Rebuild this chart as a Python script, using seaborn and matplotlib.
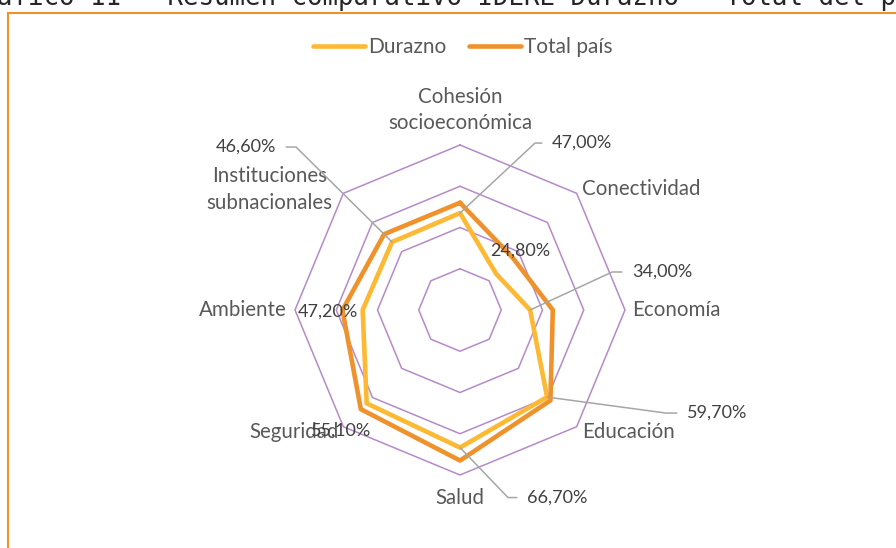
import numpy as np
import pandas as pd
import matplotlib
matplotlib.use('Agg')
import matplotlib.pyplot as plt
import matplotlib.patches as mpatches
import seaborn as sns

# datos
categorias = ['Cohesión\nsocioeconómica', 'Conectividad', 'Economía', 'Educación',
              'Salud', 'Seguridad', 'Ambiente', 'Instituciones\nsubnacionales']
durazno = [0.470, 0.248, 0.340, 0.597, 0.667, 0.640, 0.472, 0.466]
total_pais = [0.52, 0.36, 0.45, 0.62, 0.73, 0.68, 0.57, 0.52]
etiquetas_durazno = ['47,00%', '24,80%', '34,00%', '59,70%', '66,70%', '55,10%', '47,20%', '46,60%']
anillos = [0.2, 0.4, 0.6, 0.8]

titulo = 'Gráfico 11 – Resumen comparativo IDERE Durazno – Total del país'

col_durazno = '#FDB933'
col_total = '#F0922B'
col_grid = '#B58AC9'
col_texto = '#595959'
col_guia = '#A6A6A6'

sns.set_theme(style='white')
plt.rcParams['font.family'] = ['Lato', 'DejaVu Sans']

n = len(categorias)
theta = np.arange(n) * 2 * np.pi / n
theta_c = np.append(theta, 2 * np.pi)

df = pd.concat([
    pd.DataFrame({'theta': theta_c, 'valor': durazno + durazno[:1], 'serie': 'Durazno'}),
    pd.DataFrame({'theta': theta_c, 'valor': total_pais + total_pais[:1], 'serie': 'Total país'}),
])

fig = plt.figure(figsize=(8.96, 5.48), dpi=100)
fig.patch.set_facecolor('white')

# marco naranja (recortado a derecha y abajo)
fig.patches.append(mpatches.Rectangle((8 / 896, -0.1), 1.2, (548 - 12.5) / 548 + 0.1,
                                      transform=fig.transFigure, fill=False,
                                      edgecolor='#F0922B', linewidth=1.5))
fig.text(-34 / 896, 1 - 5 / 548, titulo, family='DejaVu Sans Mono', fontsize=18.5,
         color='#262626', ha='left', va='baseline')

ax = fig.add_axes([(460 - 165) / 896, (548 - 310 - 165) / 548, 330 / 896, 330 / 548],
                  projection='polar')
ax.set_theta_zero_location('N')
ax.set_theta_direction(-1)
ax.set_ylim(0, 0.8)
ax.grid(False)
ax.spines['polar'].set_visible(False)
ax.set_xticks([])
ax.set_yticks([])
ax.set_facecolor('none')

for r in anillos:
    ax.plot(theta_c, [r] * (n + 1), color=col_grid, lw=1.1, clip_on=False, zorder=1)

sns.lineplot(data=df, x='theta', y='valor', hue='serie', sort=False, estimator=None,
             palette={'Durazno': col_durazno, 'Total país': col_total},
             linewidth=3.3, ax=ax, legend=False, zorder=3)
for ln in ax.lines[-2:]:
    ln.set_solid_joinstyle('round')
    ln.set_clip_on(False)
ax.set_xlabel('')
ax.set_ylabel('')

# etiquetas de categorias (offset en pixeles desde el vertice exterior)
offs_cat = [(0, 35, 'center'), (5, 4, 'left'), (7, 0, 'left'), (5, -5, 'left'),
            (0, -23, 'center'), (-5, -5, 'right'), (-8, 0, 'right'), (-11, 4, 'right')]
for t, cat, (dx, dy, ha) in zip(theta, categorias, offs_cat):
    ax.annotate(cat, xy=(t, 0.8), xytext=(dx, dy), textcoords='offset pixels',
                ha=ha, va='center', multialignment='center', fontsize=14.8,
                color=col_texto, linespacing=1.4, annotation_clip=False)

# etiquetas de datos con linea guia: (indice, texto dx, dy, codo dx, dy, lado)
guias = [(0, 92, 70, 75, 70, 'left'),
         (2, 102, 38, 82, 38, 'left'),
         (3, 140, -16, 119, -16, 'left'),
         (4, 67, -50, 48, -50, 'left'),
         (7, -116, 95, -96, 95, 'right')]
for i, tdx, tdy, edx, edy, ha in guias:
    ang = np.degrees(np.arctan2(edy, edx))
    ax.annotate(etiquetas_durazno[i], xy=(theta[i], durazno[i]), xytext=(tdx, tdy),
                textcoords='offset pixels', ha=ha, va='center', fontsize=13,
                color='#404040', annotation_clip=False, zorder=5,
                arrowprops=dict(arrowstyle='-', color=col_guia, lw=1.1,
                                relpos=(0, 0.5) if ha == 'left' else (1, 0.5),
                                shrinkA=5, shrinkB=0,
                                connectionstyle=f'angle,angleA=0,angleB={ang},rad=0'))

# etiquetas sin linea guia
sueltas = [(1, 24, 23, 'center'), (6, -5, -2, 'right'), (5, -26, -27, 'center')]
for i, dx, dy, ha in sueltas:
    ax.annotate(etiquetas_durazno[i], xy=(theta[i], durazno[i]), xytext=(dx, dy),
                textcoords='offset pixels', ha=ha, va='center', fontsize=13,
                color='#404040', annotation_clip=False, zorder=5)

# leyenda
handles = [plt.Line2D([], [], color=col_durazno, lw=3.3),
           plt.Line2D([], [], color=col_total, lw=3.3)]
fig.legend(handles, ['Durazno', 'Total país'], loc='center', ncol=2,
           bbox_to_anchor=(463 / 896, 1 - 47 / 548), frameon=False, fontsize=15,
           handlelength=2.5, handletextpad=0.15, columnspacing=1.1, labelcolor=col_texto)

fig.savefig('out.png', dpi=100, facecolor='white')
